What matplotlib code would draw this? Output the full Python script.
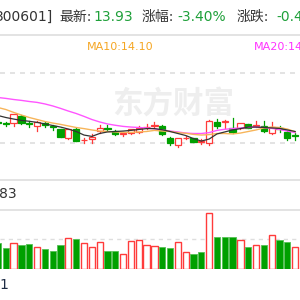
import matplotlib
matplotlib.use('Agg')
import matplotlib.pyplot as plt
from matplotlib.patches import Rectangle

plt.rcParams['font.family'] = ['DejaVu Sans', 'Noto Sans CJK SC']

# daily candles (first one is only partly visible on the left edge)
opens = [14.56, 14.48, 14.48, 14.82, 14.48, 14.36, 14.51, 14.34, 14.22, 13.83,
         14.24, 13.71, 13.76, 14.13, 14.25, 14.15, 14.02, 14.03, 14.07, 14.30,
         14.37, 14.37, 13.83, 13.50, 13.80, 13.80, 13.66, 13.58, 14.55, 14.56,
         14.25, 14.28, 14.45, 14.38, 14.37, 14.06, 14.25, 14.10, 13.95]
closes = [14.49, 14.47, 14.88, 14.51, 14.43, 14.54, 14.39, 14.30, 13.88, 14.21,
          13.70, 13.74, 13.88, 14.28, 14.21, 14.00, 14.04, 14.21, 14.28, 14.33,
          14.41, 14.00, 13.58, 13.80, 13.83, 13.65, 13.68, 14.60, 14.36, 14.58,
          14.07, 14.48, 14.28, 14.40, 14.15, 14.33, 14.21, 13.80, 13.93]
highs = [14.63, 14.54, 14.90, 14.85, 14.58, 14.58, 14.55, 14.40, 14.24, 14.22,
         14.27, 13.83, 14.00, 14.40, 14.40, 14.18, 14.09, 14.22, 14.34, 14.45,
         14.52, 14.40, 13.88, 13.82, 13.89, 13.82, 13.77, 14.63, 14.66, 14.63,
         14.72, 14.49, 14.47, 14.58, 14.58, 14.52, 14.36, 14.13, 14.06]
lows = [14.45, 14.38, 14.36, 14.47, 14.31, 14.13, 14.31, 14.18, 13.86, 13.76,
        13.68, 13.58, 13.61, 14.03, 14.18, 13.97, 13.91, 14.00, 14.04, 14.21,
        14.25, 13.97, 13.50, 13.43, 13.77, 13.64, 13.53, 13.50, 14.28, 14.27,
        14.06, 14.24, 14.27, 14.33, 14.10, 14.00, 14.10, 13.73, 13.73]
ma5 = [14.83, 14.74, 14.67, 14.61, 14.57, 14.52, 14.45, 14.38, 14.31, 14.22,
       14.11, 13.95, 13.89, 14.02, 14.09, 14.11, 14.13, 14.16, 14.20, 14.24,
       14.24, 14.19, 14.11, 14.02, 13.93, 13.79, 13.68, 13.77, 14.00, 14.09,
       14.18, 14.24, 14.31, 14.31, 14.29, 14.27, 14.25, 14.18, 14.11]
ma10 = [15.19, 15.10, 14.97, 14.85, 14.74, 14.65, 14.56, 14.49, 14.43, 14.36,
        14.29, 14.24, 14.18, 14.13, 14.11, 14.09, 14.07, 14.07, 14.09, 14.11,
        14.16, 14.13, 14.11, 14.06, 14.03, 13.98, 13.95, 13.97, 14.02, 14.02,
        14.00, 14.04, 14.11, 14.18, 14.27, 14.31, 14.29, 14.22, 14.10]
ma20 = [15.64, 15.60, 15.55, 15.51, 15.46, 15.42, 15.35, 15.26, 15.15, 15.03,
        14.92, 14.79, 14.65, 14.54, 14.45, 14.39, 14.34, 14.31, 14.29, 14.27,
        14.23, 14.18, 14.13, 14.09, 14.04, 14.02, 14.02, 14.06, 14.16, 14.21,
        14.24, 14.27, 14.29, 14.31, 14.29, 14.25, 14.20, 14.13, 14.06]
# volume bars, up = red hollow
volumes = [26.3, 21.0, 26.0, 24.0, 25.0, 22.3, 19.7, 18.3, 24.0, 30.7,
           30.0, 26.0, 21.7, 27.3, 18.3, 18.3, 14.7, 28.0, 29.0, 23.7,
           23.0, 22.3, 20.7, 26.7, 16.7, 15.0, 16.7, 55.7, 32.3, 32.3,
           32.3, 28.7, 21.7, 23.7, 24.0, 33.7, 29.0, 27.0, 22.3]
vol_up = [0, 0, 1, 0, 0, 1, 0, 0, 0, 1,
          0, 1, 1, 1, 0, 0, 1, 1, 1, 1,
          1, 0, 0, 1, 1, 0, 0, 1, 0, 0,
          0, 1, 0, 1, 0, 1, 0, 0, 1]
price_grid = [16.76, 13.58]
vol_grid = 29.7

RED = '#ff3b3b'
GREEN = '#00a000'
GRID = '#dedede'

fig = plt.figure(figsize=(3, 3), dpi=100, facecolor='white')

# overlay in pixel coords for header text and separators
bg = fig.add_axes([0, 0, 1, 1], zorder=0)
bg.set_xlim(0, 300)
bg.set_ylim(300, 0)
bg.axis('off')

bg.axhline(34.5, color=GRID, lw=1.2)
bg.axhline(179.5, color=GRID, lw=1.2)
bg.axhline(209.5, color=GRID, lw=1.2)

hs = 10
bg.text(-5, 17, '300601]', fontsize=hs, color='#333333', va='center')
bg.text(59, 17, '最新:', fontsize=hs, color='#333333', va='center')
bg.text(93, 17, '13.93', fontsize=hs, color='#1fa03a', va='center')
bg.text(142, 17, '涨幅:', fontsize=hs, color='#333333', va='center')
bg.text(177, 17, '-3.40%', fontsize=hs, color='#1fa03a', va='center')
bg.text(237, 17, '涨跌:', fontsize=hs, color='#333333', va='center')
bg.text(276, 17, '-0.49', fontsize=hs, color='#1fa03a', va='center')

bg.text(87, 47, 'MA10:14.10', fontsize=8, color='#f5a623', va='center')
bg.text(254, 47, 'MA20:14.06', fontsize=8, color='#ff33ff', va='center')

bg.text(-1, 194, '83', fontsize=hs, color='#333333', va='center')
bg.text(-1, 285, '1', fontsize=hs, color='#1e2b44', va='center')

# watermark
bg.text(112, 104, '东方财富', fontsize=22, color='#eeeeee', va='center',
        fontweight='bold')

n = len(opens)
xs = list(range(-1, n - 1))
x_lim = (-0.742, 37.62)

ax = fig.add_axes([0, 140 / 300, 1, 100 / 300], zorder=1)
ax.patch.set_alpha(0)
ax.set_xlim(*x_lim)
ax.set_ylim(12.8275, 17.3275)
ax.axis('off')
for g in price_grid:
    ax.axhline(g, color=GRID, lw=1.2, ls=(0, (3, 3)))

w = 0.8
for x, o, c, h, l in zip(xs, opens, closes, highs, lows):
    up = c >= o
    top, bot = max(o, c), min(o, c)
    if up:
        ax.plot([x, x], [top, h], color=RED, lw=0.9, zorder=3)
        ax.plot([x, x], [l, bot], color=RED, lw=0.9, zorder=3)
        ax.add_patch(Rectangle((x - w / 2, bot), w, top - bot, facecolor='white',
                               edgecolor=RED, lw=0.9, zorder=4))
    else:
        ax.plot([x, x], [l, h], color=GREEN, lw=0.9, zorder=3)
        ax.add_patch(Rectangle((x - w / 2, bot), w, top - bot, facecolor=GREEN,
                               edgecolor=GREEN, lw=0.9, zorder=4))

ax.plot(xs, ma20, color='#ff55ff', lw=1.0, zorder=5)
ax.plot(xs, ma10, color='#f7b55a', lw=1.0, zorder=5)
ax.plot(xs, ma5, color='#333333', lw=0.9, zorder=5)

vax = fig.add_axes([0, 31 / 300, 1, 60 / 300], zorder=1)
vax.patch.set_alpha(0)
vax.set_xlim(*x_lim)
vax.set_ylim(0, 60)
vax.axis('off')
vax.axhline(vol_grid, color=GRID, lw=1.0, ls=(0, (3, 3)), zorder=1)
for x, v, u in zip(xs, volumes, vol_up):
    if u:
        vax.add_patch(Rectangle((x - w / 2, 0), w, v, facecolor='white',
                                edgecolor=RED, lw=1.0, zorder=3))
    else:
        vax.add_patch(Rectangle((x - w / 2, 0), w, v, facecolor=GREEN,
                                edgecolor='#55c055', lw=0.6, zorder=3))

fig.savefig('out.png', dpi=100, facecolor='white')
